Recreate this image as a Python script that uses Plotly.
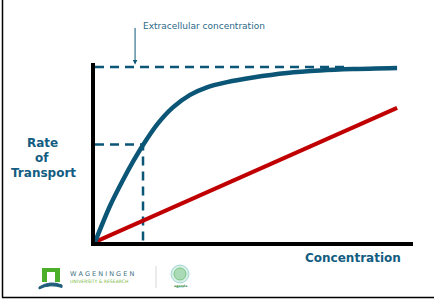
import plotly.graph_objects as go

# ---- data (arbitrary units) ----
carrier_x = [0.0, 0.47, 0.88, 1.19, 1.51, 1.95, 2.45, 2.99, 3.52, 4.15, 4.97, 6.04, 7.08, 8.11, 9.50]
carrier_y = [0.0, 2.01, 3.46, 4.47, 5.42, 6.56, 7.52, 8.22, 8.64, 8.93, 9.19, 9.44, 9.58, 9.66, 9.72]
diffusion_x = [0.0, 9.50]
diffusion_y = [0.0, 7.49]
vmax_level = 9.78
vmax_dash_end = 8.0
half_level = 5.45
half_conc = 1.51

TEAL = "#0b5677"
RED = "#c00000"
LABEL = "#135d82"

fig = go.Figure()

# dashed guide lines
fig.add_trace(go.Scatter(x=[0, vmax_dash_end], y=[vmax_level, vmax_level], mode="lines",
                         line=dict(color=TEAL, width=2.5, dash="9px,6px"), hoverinfo="skip"))
fig.add_trace(go.Scatter(x=[0, half_conc, half_conc], y=[half_level, half_level, 0], mode="lines",
                         line=dict(color=TEAL, width=2.5, dash="9px,6px"), hoverinfo="skip"))
# diffusion (linear)
fig.add_trace(go.Scatter(x=diffusion_x, y=diffusion_y, mode="lines",
                         line=dict(color=RED, width=4), hoverinfo="skip"))
# carrier-mediated (saturating)
fig.add_trace(go.Scatter(x=carrier_x, y=carrier_y, mode="lines",
                         line=dict(color=TEAL, width=4.5, shape="spline", smoothing=0.8), hoverinfo="skip"))

W, H = 434, 303
x0p, x1p = 95, 413
y0p, y1p = 242, 63

annotations = [
    dict(text="Extracellular concentration", xref="paper", yref="paper",
         x=141 / W, y=1 - 26 / H, xanchor="left", yanchor="middle", showarrow=False,
         font=dict(family="DejaVu Sans", size=9, color="#2b6a88")),
    dict(x=1.26, y=9.92, xref="x", yref="y", ax=0, ay=-38, axref="pixel", ayref="pixel",
         text="", showarrow=True, arrowhead=2, arrowsize=0.9, arrowwidth=1, arrowcolor=TEAL),
    dict(text="<b>Rate</b>", xref="paper", yref="paper", x=42 / W, y=1 - 143 / H,
         xanchor="center", yanchor="middle", showarrow=False,
         font=dict(family="DejaVu Sans", size=12, color=LABEL)),
    dict(text="<b>of</b>", xref="paper", yref="paper", x=42 / W, y=1 - 158 / H,
         xanchor="center", yanchor="middle", showarrow=False,
         font=dict(family="DejaVu Sans", size=12, color=LABEL)),
    dict(text="<b>Transport</b>", xref="paper", yref="paper", x=43 / W, y=1 - 173 / H,
         xanchor="center", yanchor="middle", showarrow=False,
         font=dict(family="DejaVu Sans", size=12, color=LABEL)),
    dict(text="<b>Concentration</b>", xref="paper", yref="paper", x=353 / W, y=1 - 258 / H,
         xanchor="center", yanchor="middle", showarrow=False,
         font=dict(family="DejaVu Sans", size=12, color=LABEL)),
    # logo texts
    dict(text="W A G E N I N G E N", xref="paper", yref="paper", x=68 / W, y=1 - 274 / H,
         xanchor="left", yanchor="middle", showarrow=False,
         font=dict(family="DejaVu Sans", size=6.5, color="#3d6f82")),
    dict(text="UNIVERSITY &amp; RESEARCH", xref="paper", yref="paper", x=68 / W, y=1 - 281.5 / H,
         xanchor="left", yanchor="middle", showarrow=False,
         font=dict(family="DejaVu Sans", size=4.6, color="#7dbb4a")),
    dict(text="<b>agenda</b>", xref="paper", yref="paper", x=180 / W, y=1 - 285.5 / H,
         xanchor="center", yanchor="middle", showarrow=False,
         font=dict(family="DejaVu Sans", size=3.2, color="#3a8f3a")),
]

def px(x, y):
    return x / W, 1 - y / H

shapes = [
    # slide border (left and bottom)
    dict(type="line", xref="paper", yref="paper", x0=2.5 / W, x1=2.5 / W, y0=1, y1=1 - 297.5 / H,
         line=dict(color="black", width=1.5)),
    dict(type="line", xref="paper", yref="paper", x0=2 / W, x1=1, y0=1 - 297.5 / H, y1=1 - 297.5 / H,
         line=dict(color="black", width=1.5)),
    # WUR logo: green block with opening
    dict(type="rect", xref="paper", yref="paper", x0=42 / W, x1=60 / W, y0=1 - 282 / H, y1=1 - 268 / H,
         fillcolor="#4caf2a", line=dict(width=0)),
    dict(type="rect", xref="paper", yref="paper", x0=47 / W, x1=55 / W, y0=1 - 283 / H, y1=1 - 272 / H,
         fillcolor="white", line=dict(width=0)),
    # blue swoosh
    dict(type="path", xref="paper", yref="paper",
         path="M {:.4f},{:.4f} Q {:.4f},{:.4f} {:.4f},{:.4f} L {:.4f},{:.4f} Q {:.4f},{:.4f} {:.4f},{:.4f} Z".format(
             *px(39, 287), *px(50, 280), *px(62, 285), *px(62, 287.5), *px(50, 283.5), *px(39, 289)),
         fillcolor="#1f5d7a", line=dict(color="#1f5d7a", width=1)),
    # separator
    dict(type="line", xref="paper", yref="paper", x0=156 / W, x1=156 / W, y0=1 - 266 / H, y1=1 - 288 / H,
         line=dict(color="#d8d8d8", width=1)),
    # round logo
    dict(type="circle", xref="paper", yref="paper", x0=171 / W, x1=189 / W, y0=1 - 283 / H, y1=1 - 265 / H,
         fillcolor="rgba(140,205,190,0.35)", line=dict(color="#8fd0c8", width=0.8)),
    dict(type="circle", xref="paper", yref="paper", x0=174 / W, x1=186 / W, y0=1 - 280 / H, y1=1 - 268 / H,
         fillcolor="rgba(90,180,90,0.35)", line=dict(color="#6cc070", width=0.8)),
    dict(type="line", xref="paper", yref="paper", x0=176 / W, x1=184 / W, y0=1 - 287 / H, y1=1 - 287 / H,
         line=dict(color="#9ad0dd", width=1)),
]

fig.update_layout(
    width=W, height=H, margin=dict(l=0, r=0, t=0, b=0),
    paper_bgcolor="white", plot_bgcolor="white", showlegend=False,
    xaxis=dict(domain=[x0p / W, x1p / W], range=[0, 10], showline=True, linecolor="black", linewidth=4,
               showgrid=False, zeroline=False, showticklabels=False, ticks="", fixedrange=True),
    yaxis=dict(domain=[1 - y0p / H, 1 - y1p / H], range=[0, 10], showline=True, linecolor="black", linewidth=4,
               showgrid=False, zeroline=False, showticklabels=False, ticks="", fixedrange=True),
    annotations=annotations, shapes=shapes,
)

fig.write_html("out.html", config={"displayModeBar": False})
